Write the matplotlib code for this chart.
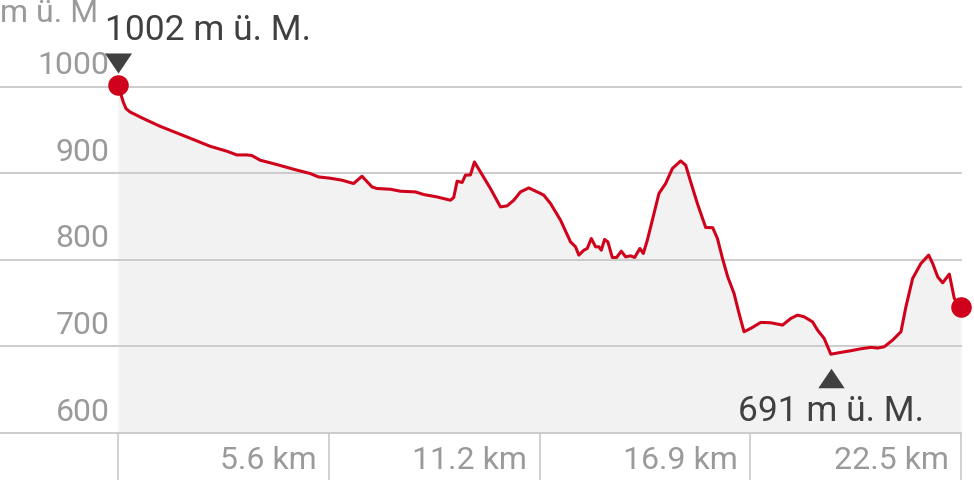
import numpy as np
import matplotlib.pyplot as plt
from matplotlib.transforms import offset_copy

# elevation profile, distance in km, elevation in m
dist_km = [0.0, 0.142, 0.214, 0.321, 0.676, 1.122, 1.569, 2.012, 2.458, 2.905,
           3.172, 3.439, 3.573, 3.795, 4.241, 4.684, 5.131, 5.353, 5.665, 5.978,
           6.288, 6.512, 6.779, 6.913, 7.268, 7.536, 7.936, 8.158, 8.516, 8.872,
           8.960, 9.051, 9.185, 9.273, 9.406, 9.513, 9.674, 9.941, 10.208, 10.387,
           10.563, 10.742, 10.964, 11.277, 11.365, 11.544, 11.811, 12.078, 12.212, 12.300,
           12.434, 12.525, 12.632, 12.747, 12.835, 12.899, 12.987, 13.075, 13.193, 13.308,
           13.433, 13.548, 13.682, 13.789, 13.930, 14.021, 14.128, 14.262, 14.438, 14.617,
           14.796, 15.018, 15.152, 15.285, 15.464, 15.686, 15.873, 15.999, 16.132, 16.274,
           16.442, 16.576, 16.709, 16.888, 17.156, 17.423, 17.736, 17.958, 18.136, 18.313,
           18.537, 18.671, 18.847, 19.026, 19.293, 19.561, 19.828, 20.095, 20.274, 20.451,
           20.675, 20.897, 21.030, 21.209, 21.431, 21.637, 21.744, 21.878, 22.011, 22.188,
           22.321, 22.5]
elev_m = [1002, 982, 974.6, 970.7, 963.1, 954.2, 946.5, 938.9, 931.1, 925.4,
          921.1, 921.1, 920.4, 915.0, 910.0, 904.6, 899.6, 895.7, 894.2, 891.9,
          888.1, 896.5, 884.2, 882.3, 881.5, 879.2, 878.4, 875.4, 872.6, 868.8,
          871.9, 890.8, 889.3, 897.7, 898.0, 913.0, 901.5, 882.3, 861.1, 862.3,
          868.8, 878.4, 883.0, 876.6, 874.6, 865.0, 845.8, 820.7, 815.0, 805.4,
          811.1, 813.1, 824.6, 815.0, 815.0, 811.1, 823.5, 820.7, 802.7, 802.7,
          810.0, 803.4, 804.6, 802.7, 813.1, 807.3, 822.7, 845.8, 876.6, 888.1,
          905.4, 914.2, 909.2, 890.0, 865.0, 837.3, 837.1, 824.6, 801.9, 780.3,
          761.2, 738.1, 716.9, 720.8, 727.7, 727.3, 724.6, 732.3, 736.1, 734.2,
          728.4, 718.8, 709.3, 691, 693.1, 695.0, 697.3, 698.9, 698.1, 699.6,
          707.3, 716.9, 745.7, 778.5, 795.8, 805.4, 795.8, 780.3, 773.4, 783.5,
          755.4, 745.4]

y_ticks = [600, 700, 800, 900, 1000]
x_ticks = [0, 5.625, 11.25, 16.875, 22.5]
x_labels = ["", "5.6 km", "11.2 km", "16.9 km", "22.5 km"]
unit_label = "m ü. M"
max_label = "1002 m ü. M."
min_label = "691 m ü. M."

RED = "#d0021b"
GRID = "#c8c8c8"
LABEL = "#9a9a9a"
DARK = "#404040"

plt.rcParams["font.family"] = ["Roboto", "DejaVu Sans"]

fig = plt.figure(figsize=(9.74, 4.8), dpi=100)
ax = fig.add_axes([118 / 974, 47 / 480, (961 - 118) / 974, 433 / 480])
ax.set_xlim(0, 22.5)
ax.set_ylim(600, 1100)
for s in ax.spines.values():
    s.set_visible(False)
ax.set_yticks([])
ax.set_xticks(x_ticks)
ax.set_xticklabels([])
ax.tick_params(axis="x", length=34, width=1.2, color=GRID, direction="out")

ax.fill_between(dist_km, elev_m, 600, color="#f2f2f2", lw=0, zorder=1)

# grid lines run out to the left edge of the figure
left = -118 / (961 - 118)
for yv in y_ticks:
    ax.axhline(yv, xmin=left, xmax=1, color=GRID, lw=1.3, clip_on=False, zorder=2)
    ax.annotate(str(yv), xy=(0, yv), xycoords=("axes fraction", "data"),
                xytext=(-6, 15), textcoords="offset points",
                ha="right", va="center", fontsize=23, color=LABEL)

for xv, lab in zip(x_ticks, x_labels):
    ax.annotate(lab, xy=(xv, 0), xycoords=("data", "axes fraction"),
                xytext=(-9, -19.5), textcoords="offset points",
                ha="right", va="center", fontsize=23, color=LABEL)

ax.plot(dist_km, elev_m, color=RED, lw=2.2, zorder=3, solid_joinstyle="round")
ax.plot([dist_km[0], dist_km[-1]], [elev_m[0], elev_m[-1]], "o", color=RED,
        ms=14.8, mew=0, zorder=4, clip_on=False)

fig.text(0.0, 1 - 22 / 480, unit_label, ha="left", va="baseline",
         fontsize=23, color=LABEL)

# max / min markers
imax = int(np.argmax(elev_m))
imin = int(np.argmin(elev_m))
tri_down = [(-1, 0.74), (1, 0.74), (0, -0.74), (-1, 0.74)]
tri_up = [(-1, -0.74), (1, -0.74), (0, 0.74), (-1, -0.74)]
ax.plot(dist_km[imax], elev_m[imax], marker=tri_down, ms=19.5, color=DARK, mew=0,
        transform=offset_copy(ax.transData, fig, x=0, y=22, units="dots"),
        clip_on=False, zorder=5)
ax.plot(dist_km[imin], elev_m[imin], marker=tri_up, ms=19, color=DARK, mew=0,
        transform=offset_copy(ax.transData, fig, x=0, y=-24, units="dots"),
        clip_on=False, zorder=5)

ax.annotate(max_label, xy=(dist_km[imax], elev_m[imax]), xytext=(-9.5, 39),
            textcoords="offset points", ha="left", va="center",
            fontsize=25.5, color=DARK)
ax.annotate(min_label, xy=(dist_km[imin], elev_m[imin]), xytext=(0, -41.5),
            textcoords="offset points", ha="center", va="center",
            fontsize=25.5, color=DARK)

fig.savefig("out.png", dpi=100)
